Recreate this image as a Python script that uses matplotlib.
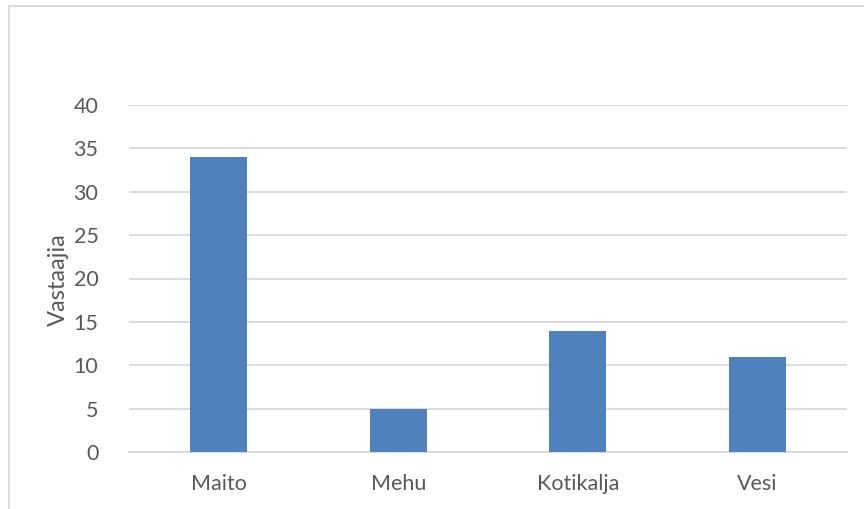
import matplotlib
matplotlib.use("Agg")
import matplotlib.pyplot as plt
from matplotlib.patches import Rectangle

categories = ["Maito", "Mehu", "Kotikalja", "Vesi"]
values = [34, 5, 14, 11]
y_ticks = [0, 5, 10, 15, 20, 25, 30, 35, 40]
y_label = "Vastaajia"

plt.rcParams['font.family'] = ['Lato', 'DejaVu Sans']

fig = plt.figure(figsize=(8.64, 5.09), dpi=100)
# chart border (partly cut off at right and bottom)
fig.patches.append(Rectangle((8.5 / 864, -0.1), 1.2, 1.1 - 6 / 509,
                             transform=fig.transFigure, fill=False,
                             edgecolor="#d9d9d9", linewidth=1.3))

ax = fig.add_axes([129 / 864, 1 - 452 / 509, 718 / 864, 347 / 509])
x = range(len(categories))
ax.bar(x, values, width=0.3175, color="#4f81bd", zorder=3)
ax.set_xlim(-0.5, len(categories) - 0.5)
ax.set_ylim(0, 40)
ax.set_yticks(y_ticks)
ax.set_xticks(list(x))
ax.set_xticklabels(categories)
ax.yaxis.grid(True, color="#d9d9d9", linewidth=1.3, zorder=0)
for s in ["top", "right", "left"]:
    ax.spines[s].set_visible(False)
ax.spines["bottom"].set_color("#d9d9d9")
ax.spines["bottom"].set_linewidth(1.3)
ax.tick_params(axis="both", length=0, labelsize=15.5, colors="#595959")
ax.tick_params(axis="y", pad=22)
ax.tick_params(axis="x", pad=16)

fig.text(58 / 864, 1 - 280 / 509, y_label, rotation=90, fontsize=17,
         color="#595959", ha="center", va="center")

fig.savefig("out.png", dpi=100)
